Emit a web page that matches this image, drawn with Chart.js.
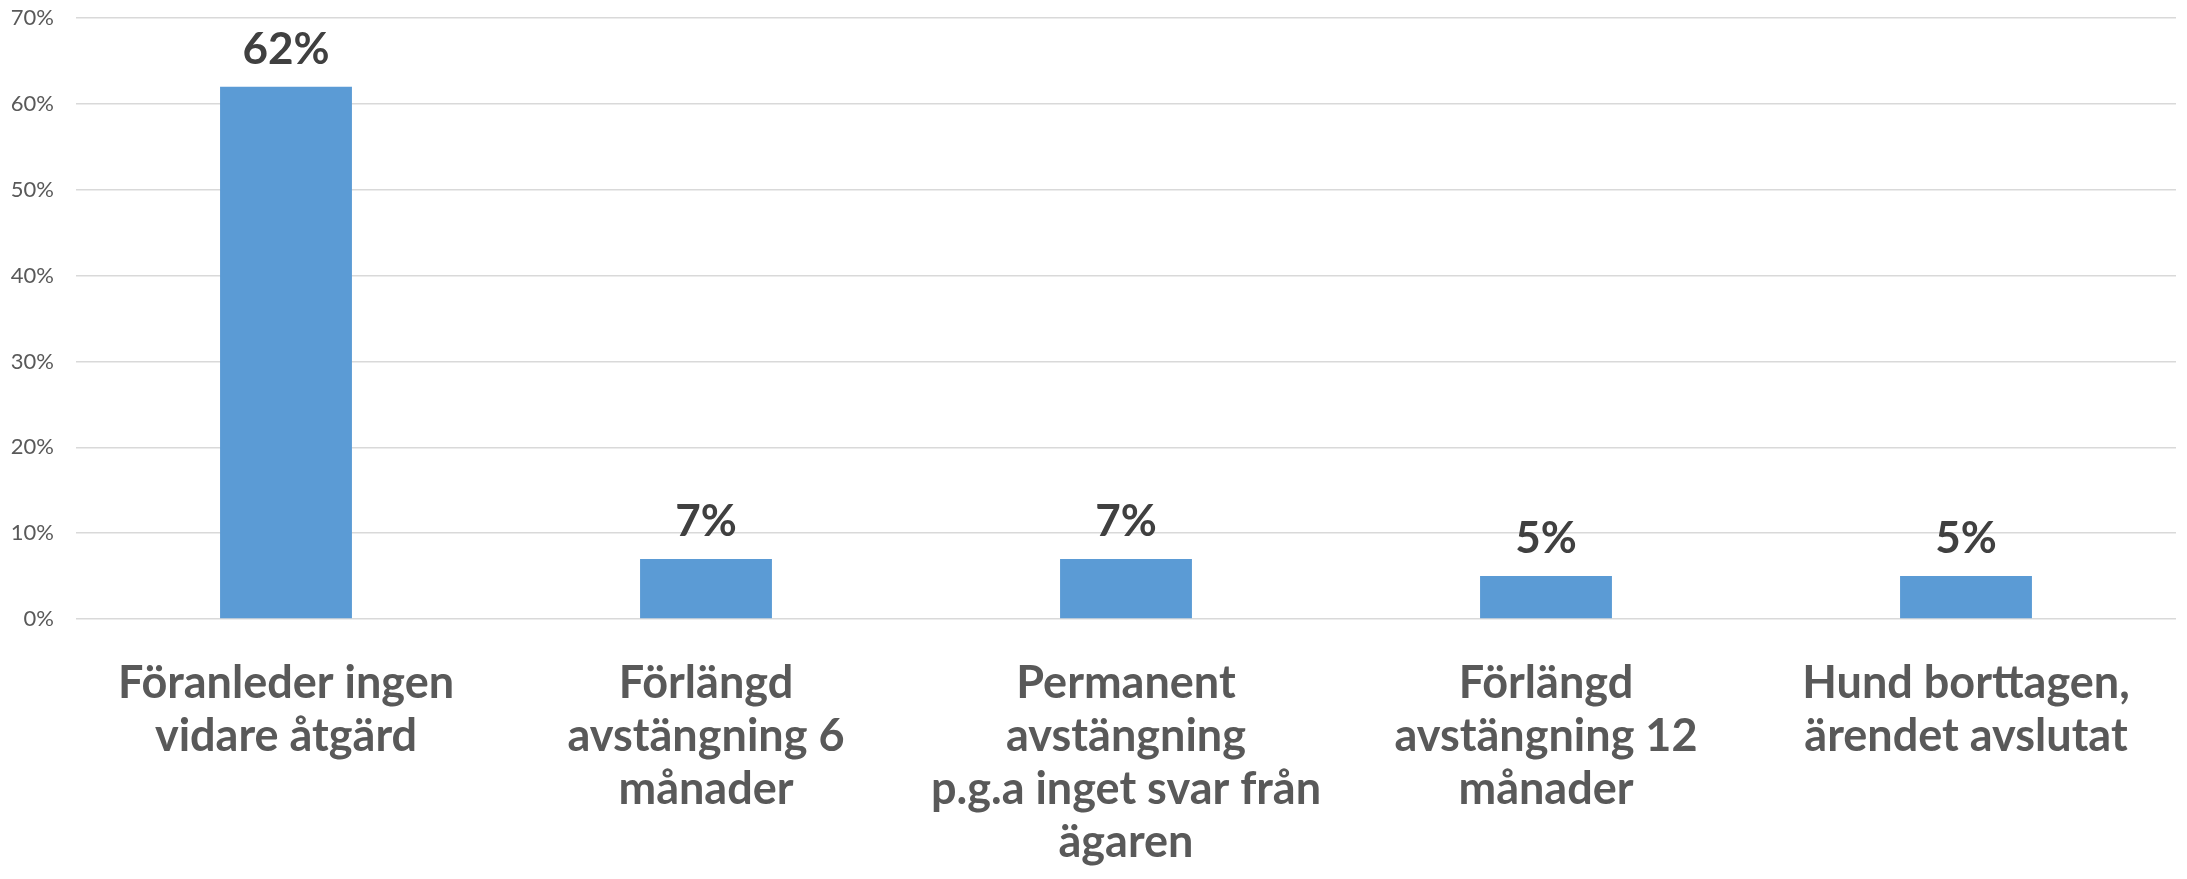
<!DOCTYPE html>
<html>
<head>
<meta charset="utf-8">
<script src="https://cdn.jsdelivr.net/npm/chart.js@4/dist/chart.umd.min.js"></script>
<style>
    html, body { margin: 0; padding: 0; background: #fff; }
    #wrap { width: 2187px; height: 879px; position: relative; }
</style>
</head>
<body>
<div id="wrap"><canvas id="barChart"></canvas></div>
<script>
// Chart data
const categories = [
    ['Föranleder ingen', 'vidare åtgärd'],
    ['Förlängd', 'avstängning 6', 'månader'],
    ['Permanent', 'avstängning', 'p.g.a inget svar från', 'ägaren'],
    ['Förlängd', 'avstängning 12', 'månader'],
    ['Hund borttagen,', 'ärendet avslutat']
];
const shares = [62, 7, 7, 5, 5];
const yTicks = [0, 10, 20, 30, 40, 50, 60, 70];

// Value labels above the bars
const valueLabels = {
    id: 'valueLabels',
    afterDatasetsDraw(chart) {
        const ctx = chart.ctx;
        const meta = chart.getDatasetMeta(0);
        ctx.save();
        ctx.font = "bold 44px Lato, sans-serif";
        ctx.fillStyle = '#404040';
        ctx.textAlign = 'center';
        ctx.textBaseline = 'alphabetic';
        meta.data.forEach((bar, i) => {
            ctx.fillText(shares[i] + '%', bar.x, bar.y - 23);
        });
        ctx.restore();
    }
};

const ctx = document.getElementById('barChart').getContext('2d');
new Chart(ctx, {
    type: 'bar',
    data: {
        labels: categories,
        datasets: [{
            data: shares,
            backgroundColor: '#5b9bd5',
            barPercentage: 0.314,
            categoryPercentage: 1
        }]
    },
    options: {
        responsive: true,
        maintainAspectRatio: false,
        animation: false,
        layout: { padding: { top: 18, right: 11, left: 0, bottom: 0 } },
        plugins: {
            legend: { display: false },
            tooltip: { enabled: false }
        },
        scales: {
            y: {
                min: 0,
                max: 70,
                afterBuildTicks: (scale) => { scale.ticks = yTicks.map(v => ({ value: v })); },
                afterFit: (scale) => {
                    scale.width = 76;
                    scale.paddingTop = 0;
                    scale.paddingBottom = 0;
                },
                ticks: {
                    color: '#595959',
                    font: { family: 'Lato, sans-serif', size: 22 },
                    padding: 22,
                    callback: (v) => v + '%'
                },
                grid: { color: '#d9d9d9', lineWidth: 1.5, drawTicks: false },
                border: { display: false }
            },
            x: {
                afterFit: (scale) => { scale.height = 260; },
                ticks: {
                    color: '#595959',
                    font: { family: 'Lato, sans-serif', size: 45, weight: 'bold', lineHeight: 1.178 },
                    padding: 38,
                    maxRotation: 0,
                    autoSkip: false
                },
                grid: { display: false, drawTicks: false },
                border: { display: false }
            }
        }
    },
    plugins: [valueLabels]
});
</script>
</body>
</html>
